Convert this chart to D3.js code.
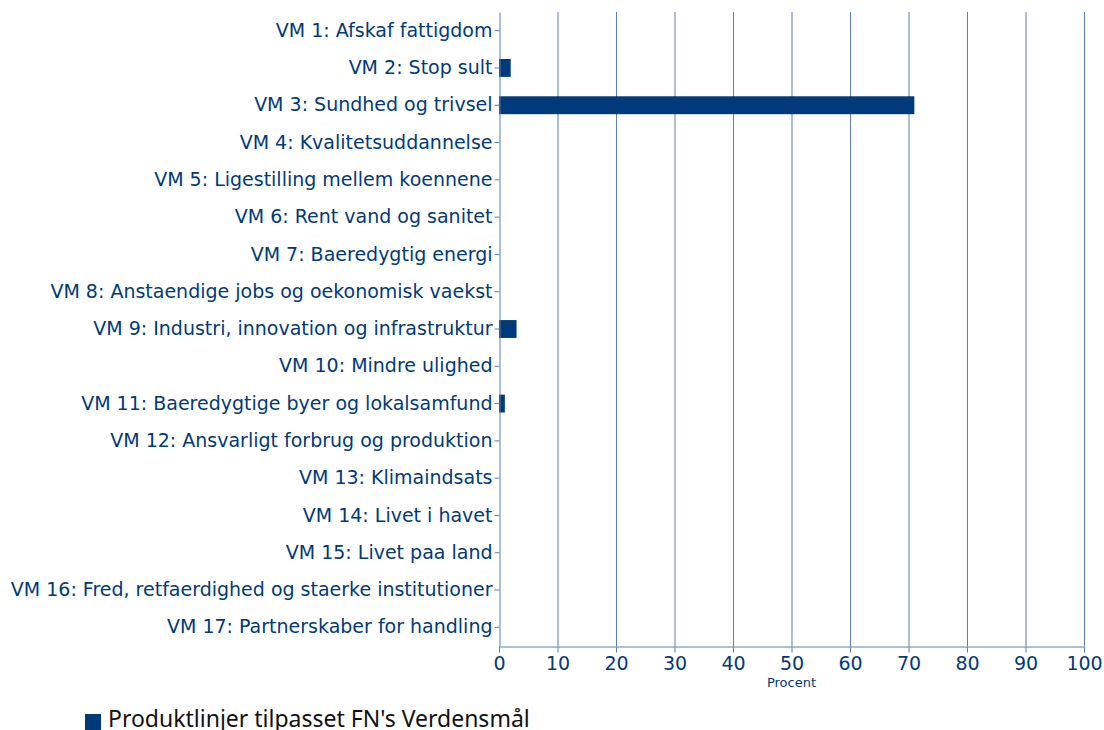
<!DOCTYPE html>
<html>
<head>
<meta charset="utf-8">
<script src="https://cdn.jsdelivr.net/npm/d3@7"></script>
<style>
  body { margin: 0; background: #fff; }
  svg text { font-family: "DejaVu Sans", sans-serif; }
</style>
</head>
<body>
<div class="container"></div>
<script>
// Verdensmaal categories and share of product lines (percent)
var goals = [
  "VM 1: Afskaf fattigdom",
  "VM 2: Stop sult",
  "VM 3: Sundhed og trivsel",
  "VM 4: Kvalitetsuddannelse",
  "VM 5: Ligestilling mellem koennene",
  "VM 6: Rent vand og sanitet",
  "VM 7: Baeredygtig energi",
  "VM 8: Anstaendige jobs og oekonomisk vaekst",
  "VM 9: Industri, innovation og infrastruktur",
  "VM 10: Mindre ulighed",
  "VM 11: Baeredygtige byer og lokalsamfund",
  "VM 12: Ansvarligt forbrug og produktion",
  "VM 13: Klimaindsats",
  "VM 14: Livet i havet",
  "VM 15: Livet paa land",
  "VM 16: Fred, retfaerdighed og staerke institutioner",
  "VM 17: Partnerskaber for handling"
];
var percent = [0, 2, 71, 0, 0, 0, 0, 0, 3, 0, 1, 0, 0, 0, 0, 0, 0];
var xTicks = [0, 10, 20, 30, 40, 50, 60, 70, 80, 90, 100];
var seriesName = "Produktlinjer tilpasset FN's Verdensmål";
var axisTitle = "Procent";

var blue = '#003a7a';
var gridColor = '#5a7fb0';

var svg = d3.select('.container')
.append('svg')
.attr('width', 1104)
.attr('height', 730);

var plotLeft = 499, plotRight = 1084, plotTop = 12, plotBottom = 646;

var x = d3.scaleLinear().domain([0, 100]).range([plotLeft, plotRight]);
var y = d3.scaleBand().domain(goals).range([plotTop, plotBottom]).paddingInner(0.52).paddingOuter(0.26);

// vertical grid lines
svg.append('g')
.selectAll('line')
.data(xTicks.slice(1))
.join('line')
.attr('x1', d => x(d) + 0.5)
.attr('x2', d => x(d) + 0.5)
.attr('y1', plotTop)
.attr('y2', plotBottom)
.attr('stroke', gridColor)
.attr('stroke-width', 1);

// bars
svg.append('g')
.selectAll('rect')
.data(percent)
.join('rect')
.attr('x', x(0))
.attr('y', (d, i) => y(goals[i]))
.attr('width', d => x(d) - x(0))
.attr('height', y.bandwidth())
.attr('fill', blue);

// y axis
var yAxis = svg.append('g')
.attr('transform', 'translate(' + (plotLeft + 0.5) + ',0)')
.call(d3.axisLeft(y).tickSize(5).tickPadding(2).tickSizeOuter(0));
yAxis.select('.domain').attr('stroke', gridColor);
yAxis.selectAll('.tick line').attr('stroke', gridColor);
yAxis.selectAll('text')
.attr('fill', blue)
.style('font-size', '19px');

// x axis
var xAxis = svg.append('g')
.attr('transform', 'translate(0,' + (plotBottom + 0.5) + ')')
.call(d3.axisBottom(x).tickValues(xTicks).tickSize(6).tickPadding(4).tickSizeOuter(0));
xAxis.select('.domain').attr('stroke', gridColor);
xAxis.selectAll('.tick line').attr('stroke', gridColor);
xAxis.selectAll('text')
.attr('fill', blue)
.style('font-size', '19px');

svg.append('text')
.attr('x', (plotLeft + plotRight) / 2)
.attr('y', 687)
.attr('text-anchor', 'middle')
.attr('fill', blue)
.style('font-size', '13px')
.text(axisTitle);

// legend
svg.append('rect')
.attr('x', 85)
.attr('y', 714)
.attr('width', 16)
.attr('height', 16)
.attr('fill', blue);

svg.append('text')
.attr('x', 108)
.attr('y', 727)
.attr('fill', '#111')
.style('font-family', '"Noto Sans", sans-serif')
.style('font-size', '23px')
.text(seriesName);
</script>
</body>
</html>
